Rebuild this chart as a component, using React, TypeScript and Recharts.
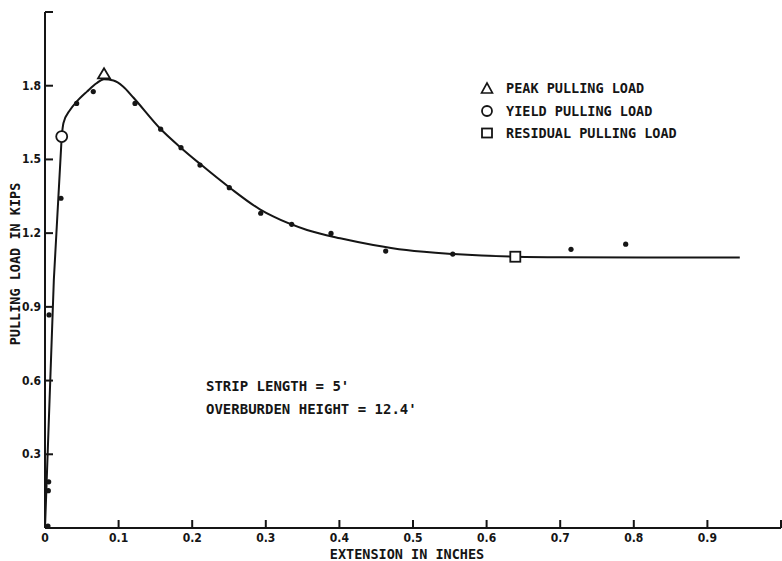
import React from 'react';
import { ComposedChart, Line, Scatter, XAxis, YAxis, Legend, Label } from 'recharts';

// ---- data ----
const xTicks = [0, 0.1, 0.2, 0.3, 0.4, 0.5, 0.6, 0.7, 0.8, 0.9, 1.0];
const xTickLabels = ['0', '0.1', '0.2', '0.3', '0.4', '0.5', '0.6', '0.7', '0.8', '0.9', ''];
const yTicks = [0, 0.3, 0.6, 0.9, 1.2, 1.5, 1.8, 2.1];
const yTickLabels = ['', '0.3', '0.6', '0.9', '1.2', '1.5', '1.8', ''];

// fitted curve, elastic rise (extension in inches, pulling load in kips)
const riseExtension = [0, 0.012, 0.0227];
const riseLoad = [0, 1.009, 1.593];
// fitted curve after yield
const curveExtension = [0.0227, 0.025, 0.034, 0.043, 0.057, 0.07, 0.08, 0.093, 0.106, 0.12, 0.156, 0.183, 0.211, 0.251, 0.292, 0.31, 0.356, 0.401, 0.446, 0.491, 0.555, 0.639, 0.7, 0.944];
const curveLoad = [1.593, 1.647, 1.701, 1.735, 1.776, 1.81, 1.826, 1.821, 1.797, 1.752, 1.627, 1.552, 1.481, 1.385, 1.297, 1.268, 1.213, 1.179, 1.152, 1.131, 1.115, 1.104, 1.102, 1.101];

// measured test points
const testExtension = [0.004, 0.0045, 0.005, 0.0055, 0.0217, 0.043, 0.0656, 0.1223, 0.1572, 0.1848, 0.2106, 0.2504, 0.2931, 0.3352, 0.3886, 0.4629, 0.554, 0.7147, 0.789];
const testLoad = [0.008, 0.152, 0.188, 0.867, 1.342, 1.728, 1.776, 1.728, 1.623, 1.548, 1.477, 1.385, 1.281, 1.236, 1.199, 1.127, 1.115, 1.134, 1.155];

const peakLoad = [{ x: 0.0802, y: 1.826 }];
const yieldLoad = [{ x: 0.0227, y: 1.593 }];
const residualLoad = [{ x: 0.639, y: 1.104 }];

const legendNames = ['PEAK PULLING LOAD', 'YIELD PULLING LOAD', 'RESIDUAL PULLING LOAD'];
const noteLines = ["STRIP LENGTH = 5'", "OVERBURDEN HEIGHT = 12.4'"];

const riseData = riseExtension.map((x, i) => ({ x, y: riseLoad[i] }));
const curveData = curveExtension.map((x, i) => ({ x, y: curveLoad[i] }));
const testData = testExtension.map((x, i) => ({ x, y: testLoad[i] }));

// ---- style ----
const INK = '#151515';
const FONT = "'DejaVu Sans Condensed', 'DejaVu Sans', sans-serif";
const MONO = "'DejaVu Sans Mono', monospace";
const tickStyle: React.CSSProperties = { fontFamily: FONT, fontWeight: 700, fill: INK, fontStretch: 'condensed' };
const titleStyle: React.CSSProperties = { fontFamily: MONO, fontWeight: 700, fill: INK };

const XTick = (props: any) => {
  const { x, y, payload, index } = props;
  const label = xTickLabels[index] ?? '';
  return (
    <g>
      {payload.value > 0 && <line x1={x} x2={x} y1={y} y2={y - 8} stroke={INK} strokeWidth={2} />}
      {label && (
        <text x={x} y={y + 14} textAnchor="middle" fontSize={12} style={tickStyle}>
          {label}
        </text>
      )}
    </g>
  );
};

const YTick = (props: any) => {
  const { x, y, payload, index } = props;
  const label = yTickLabels[index] ?? '';
  return (
    <g>
      {payload.value > 0 && <line x1={x} x2={x + 8} y1={y} y2={y} stroke={INK} strokeWidth={2} />}
      {label && (
        <text x={x - 4} y={y + 4} textAnchor="end" fontSize={12} style={tickStyle}>
          {label}
        </text>
      )}
    </g>
  );
};

const Dot = (props: any) => <circle cx={props.cx} cy={props.cy} r={2.6} fill={INK} />;
const Tri = (props: any) => (
  <polygon
    points={`${props.cx - 6},${props.cy - 1} ${props.cx + 6},${props.cy - 1} ${props.cx},${props.cy - 11}`}
    fill="#fff"
    stroke={INK}
    strokeWidth={1.8}
  />
);
const Circ = (props: any) => <circle cx={props.cx} cy={props.cy} r={5.5} fill="#fff" stroke={INK} strokeWidth={1.8} />;
const Sq = (props: any) => (
  <rect x={props.cx - 5} y={props.cy - 5} width={10} height={10} fill="#fff" stroke={INK} strokeWidth={1.8} />
);

const LegendIcon = ({ i }: { i: number }) => (
  <svg width={14} height={14} style={{ display: 'block' }}>
    {i === 0 && <polygon points="1.5,12 12.5,12 7,2" fill="#fff" stroke={INK} strokeWidth={1.6} />}
    {i === 1 && <circle cx={7} cy={7} r={5} fill="#fff" stroke={INK} strokeWidth={1.8} />}
    {i === 2 && <rect x={2} y={2.5} width={10} height={9} fill="#fff" stroke={INK} strokeWidth={1.8} />}
  </svg>
);

const LegendContent = (props: any) => {
  const payload = (props.payload || [])
    .filter((p: any) => legendNames.includes(p.value))
    .sort((a: any, b: any) => legendNames.indexOf(a.value) - legendNames.indexOf(b.value));
  return (
    <div style={{ fontFamily: MONO, fontWeight: 700, fontSize: 13.5, color: INK }}>
      {payload.map((p: any) => {
        const i = legendNames.indexOf(p.value);
        return (
          <div key={p.value} style={{ display: 'flex', alignItems: 'center', height: 22.5 }}>
            <LegendIcon i={i} />
            <span style={{ marginLeft: 12 }}>{p.value}</span>
          </div>
        );
      })}
    </div>
  );
};

export default function App() {
  return (
    <div style={{ position: 'absolute', left: 0, top: 0, width: 782, height: 561, background: '#fff' }}>
      <ComposedChart width={782} height={561} margin={{ top: 12, right: 1, bottom: 0, left: 0 }}>
        <XAxis
          type="number"
          dataKey="x"
          domain={[0, 1]}
          ticks={xTicks}
          interval={0}
          allowDataOverflow
          height={33}
          tickSize={0}
          tickMargin={0}
          tickLine={false}
          axisLine={{ stroke: INK, strokeWidth: 2 }}
          tick={<XTick />}
        >
          <Label
            content={() => (
              <text x={407} y={559} textAnchor="middle" fontSize={13.5} style={titleStyle}>
                EXTENSION IN INCHES
              </text>
            )}
          />
        </XAxis>
        <YAxis
          type="number"
          dataKey="y"
          domain={[0, 2.1]}
          ticks={yTicks}
          interval={0}
          allowDataOverflow
          width={45}
          tickSize={0}
          tickMargin={0}
          tickLine={false}
          axisLine={{ stroke: INK, strokeWidth: 2 }}
          tick={<YTick />}
        >
          <Label
            content={() => (
              <text
                x={20}
                y={264}
                transform="rotate(-90 20 264)"
                textAnchor="middle"
                fontSize={13.5}
                style={titleStyle}
              >
                PULLING LOAD IN KIPS
              </text>
            )}
          />
        </YAxis>
        <Legend
          layout="vertical"
          align="center"
          verticalAlign="middle"
          content={<LegendContent />}
          wrapperStyle={{ position: 'absolute', left: 480, top: 77, width: 260, height: 70 }}
        />
        <Line
          data={riseData}
          dataKey="y"
          type="linear"
          stroke={INK}
          strokeWidth={2}
          dot={false}
          activeDot={false}
          legendType="none"
          isAnimationActive={false}
        />
        <Line
          data={curveData}
          dataKey="y"
          type="monotone"
          stroke={INK}
          strokeWidth={2}
          dot={false}
          activeDot={false}
          legendType="none"
          isAnimationActive={false}
        />
        <Scatter data={testData} dataKey="y" shape={<Dot />} legendType="none" isAnimationActive={false} />
        <Scatter name={legendNames[0]} data={peakLoad} dataKey="y" shape={<Tri />} isAnimationActive={false} />
        <Scatter name={legendNames[1]} data={yieldLoad} dataKey="y" shape={<Circ />} isAnimationActive={false} />
        <Scatter name={legendNames[2]} data={residualLoad} dataKey="y" shape={<Sq />} isAnimationActive={false} />
      </ComposedChart>
      <div
        style={{
          position: 'absolute',
          left: 206,
          top: 375,
          fontFamily: MONO,
          fontWeight: 700,
          fontSize: 14,
          color: INK,
          lineHeight: '22.5px',
          whiteSpace: 'pre',
        }}
      >
        {noteLines.map((t) => (
          <div key={t}>{t}</div>
        ))}
      </div>
    </div>
  );
}
